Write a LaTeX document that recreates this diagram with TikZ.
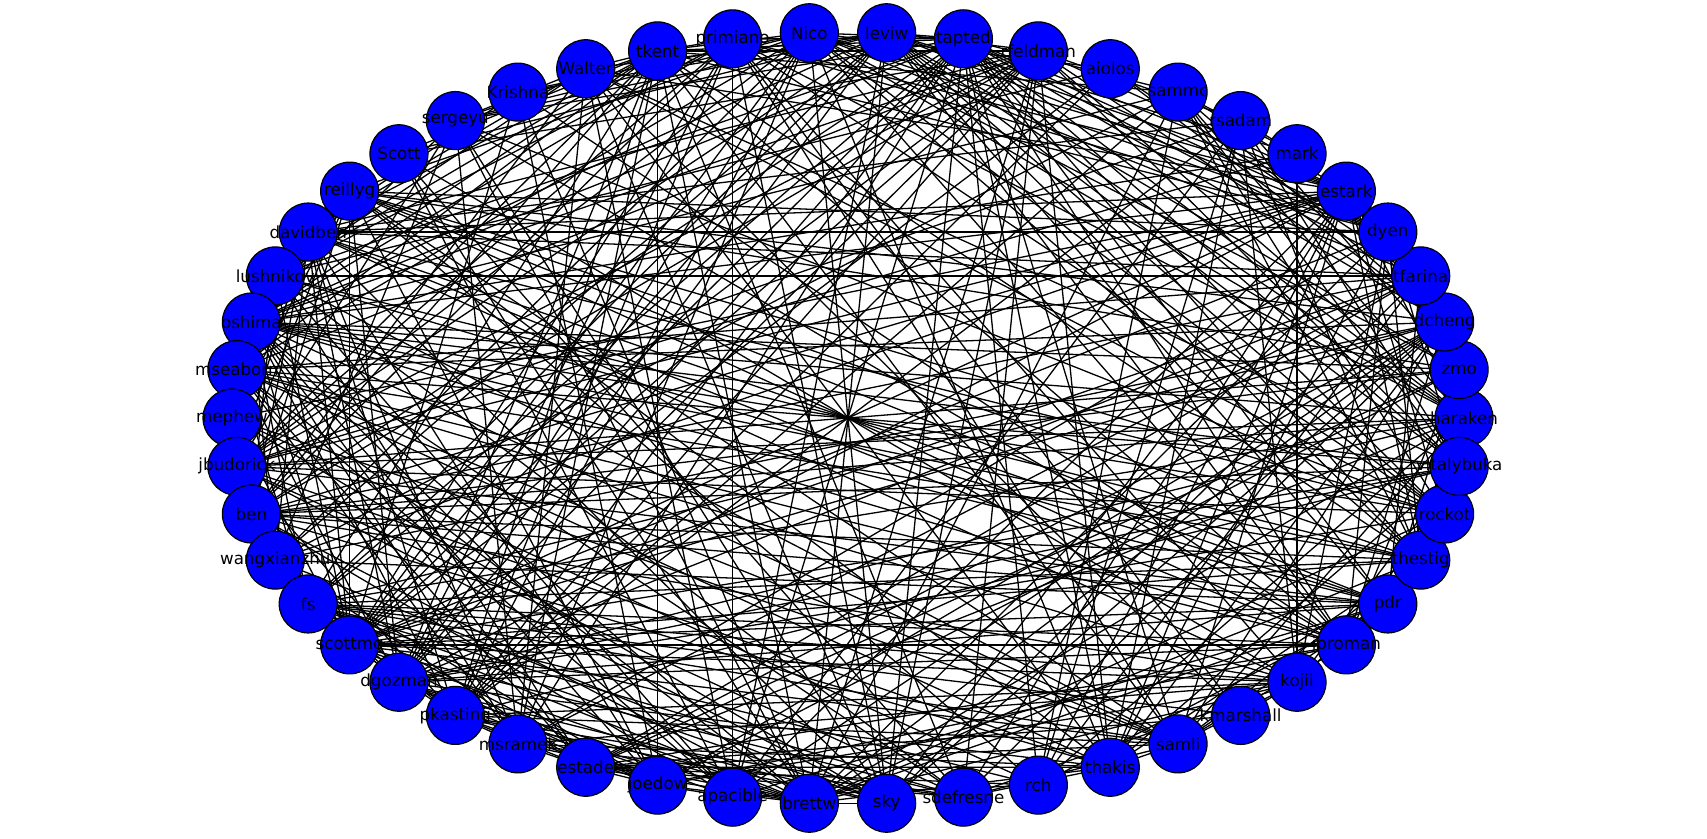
\documentclass[tikz,border=0pt]{standalone}
\usepackage{fontspec}
\setmainfont{DejaVu Sans}
\usetikzlibrary{backgrounds}

\begin{document}
\begin{tikzpicture}[x=1pt,y=1pt]
 \tikzstyle{person}=[circle,fill=blue,draw=black,line width=1.2pt,minimum size=58pt,
  inner sep=0pt,font=\fontsize{16.7}{19}\selectfont]
 \tikzstyle{link}=[draw=black,line width=1.3pt]
 \useasboundingbox (-848,-420) rectangle (859,418);
 % people round the ring
 \foreach \nm [count=\k from 0] in {haraken,zmo,dcheng,tfarina,dyen,estark,mark,rsadam,
  sammc,aiolos,rfeldman,tapted,leviw,Nico,primiano,tkent,Walter,Krishna,sergeyu,Scott,
  reillyg,davidben,lushnikov,oshima,mseaborn,mephew,jbudorick,ben,wangxianzhu,fs,
  scottmg,dgozman,pkasting,msramek,estade,joedow,apacible,brettw,sky,sdefresne,rch,
  thakis,samli,kmarshall,kojii,jproman,pdr,thestig,rockot,vitalybuka}
  \node[person] (n\k) at ({7.2*\k}:616pt and 386pt) {\makebox[0pt]{\nm}};
 % how busy each one is
 \def\busy{{0.6,0.55,0.7,0.6,0.6,0.95,0.3,0.3,0.35,0.25,0.75,0.75,0.7,0.75,0.75,0.75,
  0.45,0.25,0.45,0.3,0.7,0.75,0.6,0.75,0.55,0.45,0.6,0.55,0.6,0.65,0.7,0.75,0.8,0.65,
  0.65,0.6,0.6,0.7,0.7,0.6,0.35,0.65,0.7,0.3,0.6,0.7,0.6,0.7,0.6,0.6}}
 \pgfmathsetseed{4242}
 \begin{pgfonlayer}{background}
 \foreach \i in {0,...,48} {
  \pgfmathtruncatemacro\jfrom{\i+1}
  \foreach \j in {\jfrom,...,49} {
   \pgfmathtruncatemacro\hit{rnd < \busy[\i]*\busy[\j]}
   \ifnum\hit=1 \path[link] (n\i.center) -- (n\j.center); \fi
  }
 }
 \end{pgfonlayer}
\end{tikzpicture}
\end{document}
